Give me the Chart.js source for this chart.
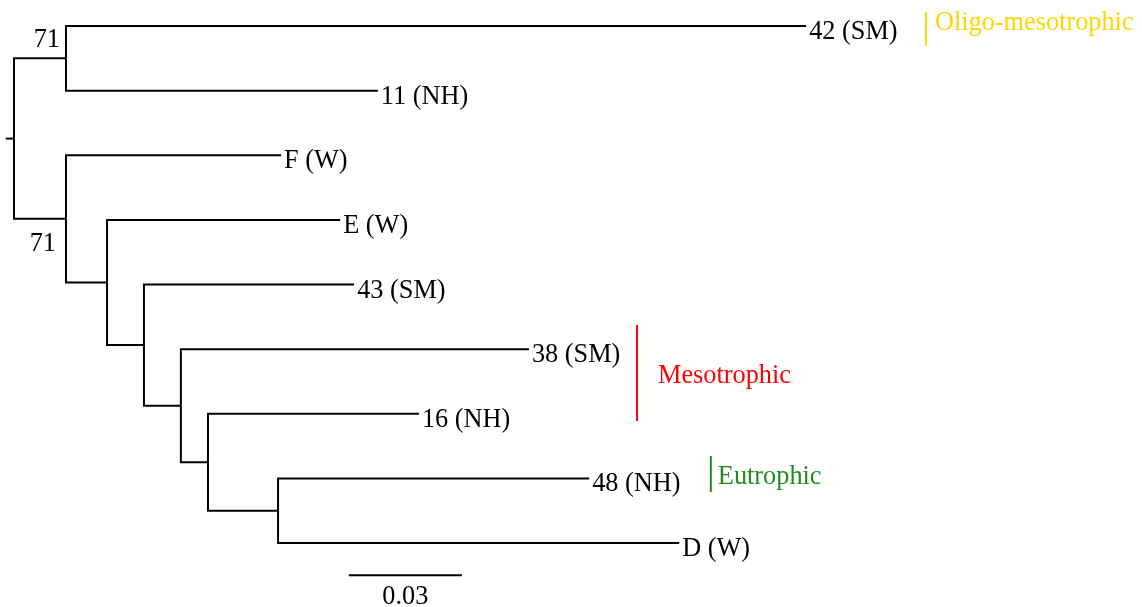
<!DOCTYPE html>
<html>
<head>
<meta charset="utf-8">
<script src="https://cdn.jsdelivr.net/npm/chart.js@4/dist/chart.umd.min.js"></script>
<style>
  html, body { margin: 0; padding: 0; background: #ffffff; }
  #wrap { width: 1142px; height: 607px; position: relative; }
</style>
</head>
<body>
<div id="wrap"><canvas id="tree"></canvas></div>
<script>
// ---- Tree data: each node with its parent and branch length (substitutions/site) ----
const nodeNames = ['root', 'nA', '42 (SM)', '11 (NH)', 'nB', 'F (W)', 'nC', 'E (W)', 'nD',
                   '43 (SM)', 'nE', '38 (SM)', 'nF', '16 (NH)', 'nG', '48 (NH)', 'D (W)'];
const parentNames = [null, 'root', 'nA', 'nA', 'root', 'nB', 'nB', 'nC', 'nC',
                     'nD', 'nD', 'nE', 'nE', 'nF', 'nF', 'nG', 'nG'];
const branchLengths = [0, 0.0138, 0.1965, 0.0828, 0.0138, 0.0571, 0.0109, 0.0619, 0.0098,
                       0.0558, 0.0098, 0.0924, 0.0072, 0.0560, 0.0186, 0.0826, 0.1065];
// tips from top to bottom
const tipOrder = ['42 (SM)', '11 (NH)', 'F (W)', 'E (W)', '43 (SM)', '38 (SM)', '16 (NH)', '48 (NH)', 'D (W)'];
// bootstrap support
const supportNodes = ['nA', 'nB'];
const supportValues = ['71', '71'];
// scale bar
const scaleBarLength = 0.03;
const scaleBarLabel = '0.03';
// trophic groups
const cladeNames = ['Oligo-mesotrophic', 'Mesotrophic', 'Eutrophic'];

// ---- Layout / style ----
const PX_PER_UNIT = 113 / 0.03;
const ROW_PX = 64.625;
const W = 1142, H = 607, X0 = 14, Y0 = 26;
const FONT = '26.3px "Liberation Serif", "Times New Roman", serif';
const rootStub = 0.0022;
const scaleBarPos = { x: 0.0889, y: 8.5 };
const cladeStyle = [
  { color: '#FFD700', x: 0.2421, y0: -0.217, y1: 0.309, dx: 9,  dy: 1 },
  { color: '#FF0000', x: 0.1654, y0: 4.627,  y1: 6.112, dx: 21, dy: 10 },
  { color: '#228B22', x: 0.1850, y0: 6.654,  y1: 7.211, dx: 7,  dy: 10 }
];
const supportStyle = [ { dx: -6, dy: -11 }, { dx: -10, dy: 32 } ];

// ---- Compute node positions (x = distance from root, y = row) ----
const idx = {};
nodeNames.forEach((n, i) => idx[n] = i);
const nx = new Array(nodeNames.length).fill(0);
const ny = new Array(nodeNames.length).fill(null);
nodeNames.forEach((n, i) => {
  const p = parentNames[i];
  nx[i] = p === null ? 0 : nx[idx[p]] + branchLengths[i];
});
tipOrder.forEach((t, r) => ny[idx[t]] = r);
for (let i = nodeNames.length - 1; i >= 0; i--) {
  if (ny[i] !== null) continue;
  const kids = [];
  parentNames.forEach((p, j) => { if (p === nodeNames[i]) kids.push(ny[j]); });
  ny[i] = (Math.min(...kids) + Math.max(...kids)) / 2;
}

const lineBase = {
  showLine: true, borderColor: '#000000', borderWidth: 2, pointRadius: 0, pointHoverRadius: 0,
  fill: false, tension: 0, clip: false, borderCapStyle: 'butt', borderJoinStyle: 'miter'
};
const datasets = [];
const r = idx['root'];
datasets.push(Object.assign({}, lineBase, { data: [{ x: -rootStub, y: ny[r] }, { x: 0, y: ny[r] }] }));
nodeNames.forEach((n, i) => {
  const p = parentNames[i];
  if (p === null) return;
  const pi = idx[p];
  datasets.push(Object.assign({}, lineBase, {
    data: [{ x: nx[pi], y: ny[pi] }, { x: nx[pi], y: ny[i] }, { x: nx[i], y: ny[i] }]
  }));
});
datasets.push(Object.assign({}, lineBase, {
  data: [{ x: scaleBarPos.x, y: scaleBarPos.y }, { x: scaleBarPos.x + scaleBarLength, y: scaleBarPos.y }]
}));
cladeStyle.forEach(c => {
  datasets.push(Object.assign({}, lineBase, {
    borderColor: c.color, data: [{ x: c.x, y: c.y0 }, { x: c.x, y: c.y1 }]
  }));
});

// ---- Text labels ----
const labelPlugin = {
  id: 'treeLabels',
  afterDatasetsDraw(chart) {
    const ctx = chart.ctx, xs = chart.scales.x, ys = chart.scales.y;
    ctx.save();
    ctx.font = FONT;
    ctx.textBaseline = 'alphabetic';
    // tip labels
    ctx.fillStyle = '#000000';
    ctx.textAlign = 'left';
    tipOrder.forEach(t => {
      const i = idx[t];
      ctx.fillText(t, xs.getPixelForValue(nx[i]) + 3, ys.getPixelForValue(ny[i]) + 13);
    });
    // support values
    ctx.textAlign = 'right';
    supportNodes.forEach((n, k) => {
      const i = idx[n];
      ctx.fillText(supportValues[k], xs.getPixelForValue(nx[i]) + supportStyle[k].dx,
                   ys.getPixelForValue(ny[i]) + supportStyle[k].dy);
    });
    // scale bar label
    ctx.textAlign = 'center';
    ctx.fillText(scaleBarLabel, xs.getPixelForValue(scaleBarPos.x + scaleBarLength / 2),
                 ys.getPixelForValue(scaleBarPos.y) + 29);
    // group names
    ctx.textAlign = 'left';
    cladeNames.forEach((name, k) => {
      const c = cladeStyle[k];
      ctx.fillStyle = c.color;
      ctx.fillText(name, xs.getPixelForValue(c.x) + c.dx,
                   ys.getPixelForValue((c.y0 + c.y1) / 2) + c.dy);
    });
    ctx.restore();
  }
};

new Chart(document.getElementById('tree'), {
  type: 'scatter',
  data: { datasets },
  options: {
    responsive: true,
    maintainAspectRatio: false,
    animation: false,
    layout: { padding: 0 },
    plugins: { legend: { display: false }, tooltip: { enabled: false } },
    events: [],
    scales: {
      x: { type: 'linear', display: false, min: -X0 / PX_PER_UNIT, max: (W - X0) / PX_PER_UNIT },
      y: { type: 'linear', display: false, reverse: true, min: -Y0 / ROW_PX, max: (H - Y0) / ROW_PX }
    }
  },
  plugins: [labelPlugin]
});
</script>
</body>
</html>
